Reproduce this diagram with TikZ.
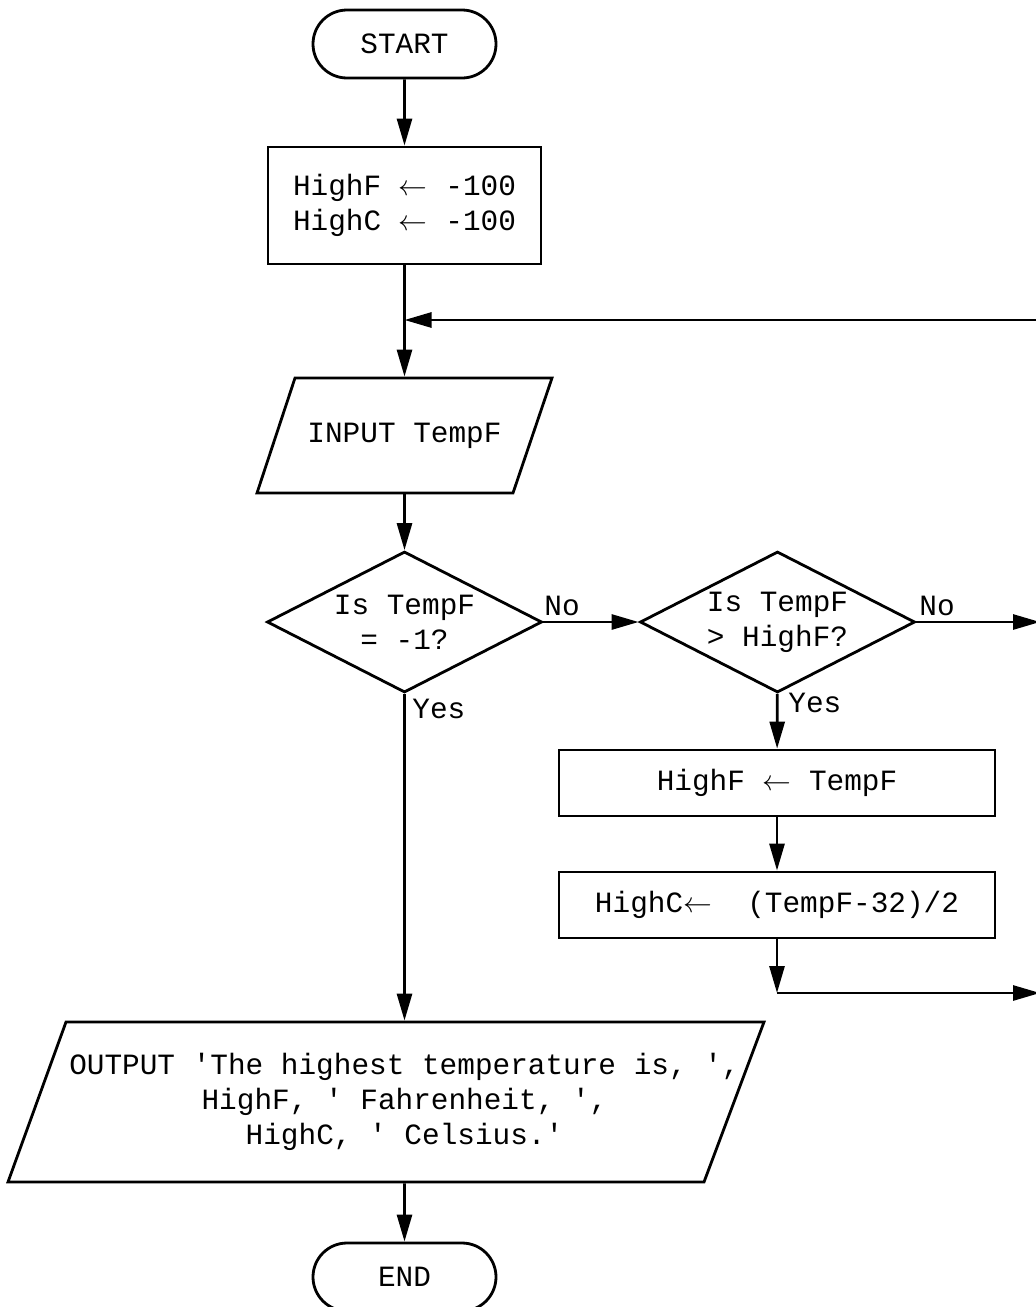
\documentclass[tikz,border=0pt]{standalone}
\usepackage{fontspec}
\setmonofont{Liberation Mono}
\usetikzlibrary{shapes.geometric,shapes.misc,arrows.meta}

\tikzset{
    every node/.style={font=\ttfamily\fontsize{14.7}{17.5}\selectfont},
    terminal/.style={draw, rounded rectangle, minimum width=91.5pt, minimum height=34pt, inner sep=0pt},
    process/.style={draw, rectangle, inner sep=0pt, align=center},
    io/.style={inner sep=0pt, align=center},
    decision/.style={draw, diamond, aspect=1.95, inner sep=0pt, minimum width=137.5pt, minimum height=70.5pt, align=center},
    branch/.style={inner sep=0pt, anchor=base west},
    flow/.style={-{Triangle[length=13.5pt,width=7.5pt]}}
}

\begin{document}
\begin{tikzpicture}[x=0.5pt, y=-0.5pt, line width=1.4pt]

                \useasboundingbox (0,0) rectangle (1036,1307);

                \node[terminal] (start) at (404.5,44) {START};
                \node[process, minimum width=136.5pt, minimum height=58.5pt] (init) at (404.5,205.5)
                    {HighF \ensuremath{\leftarrow} -100\\HighC \ensuremath{\leftarrow} -100};

                \node[io, minimum height=57.5pt] (input) at (404.5,435.5) {INPUT TempF};
                \draw (295,378) -- (552,378) -- (513,493) -- (257,493) -- cycle;

                \node[decision] (isend) at (404.5,622) {\raisebox{-3pt}{Is TempF}\\\raisebox{-3pt}{= -1?}};
                \node[decision] (ishigh) at (777.5,622) {Is TempF\\> HighF?};

                \node[process, minimum width=218pt, minimum height=33pt] (setf) at (777,783)
                    {HighF \ensuremath{\leftarrow} TempF};
                \node[process, minimum width=218pt, minimum height=33pt] (setc) at (777,905)
                    {HighC\ensuremath{\leftarrow}\ \ (TempF-32)/2};

                \node[io, minimum height=80pt] (output) at (404.5,1102)
                    {OUTPUT 'The highest temperature is, ',\\HighF, ' Fahrenheit, ',\\HighC, ' Celsius.'};
                \draw (66,1022) -- (764,1022) -- (704,1182) -- (8,1182) -- cycle;

                \node[terminal] (end) at (404.5,1277) {END};

                \coordinate (loopin) at (1040,320);
                \coordinate (nomore) at (1040,622);
                \coordinate (bend) at (777,993);
                \coordinate (done) at (1040,993);

                \draw[flow] (start) -- (init);
                \draw[flow] (init) -- (input);
                \draw[flow] (loopin) -- (loopin -| init.south);
                \draw[flow] (input) -- (isend);
                \draw[flow] (isend) -- (ishigh);
                \draw[flow] (ishigh) -- (nomore);
                \draw[flow] (ishigh) -- (setf);
                \draw[flow] (setf) -- (setc);
                \draw[flow] (setc) -- (bend);
                \draw[flow] (bend) -- (done);
                \draw[flow] (isend) -- (output);
                \draw[flow] (output) -- (end);

                \node[branch] (no1) at (543,615) {No};
                \node[branch] (no2) at (918,615) {No};
                \node[branch] (yes1) at (411,718) {Yes};
                \node[branch] (yes2) at (787,712) {Yes};

\end{tikzpicture}
\end{document}
